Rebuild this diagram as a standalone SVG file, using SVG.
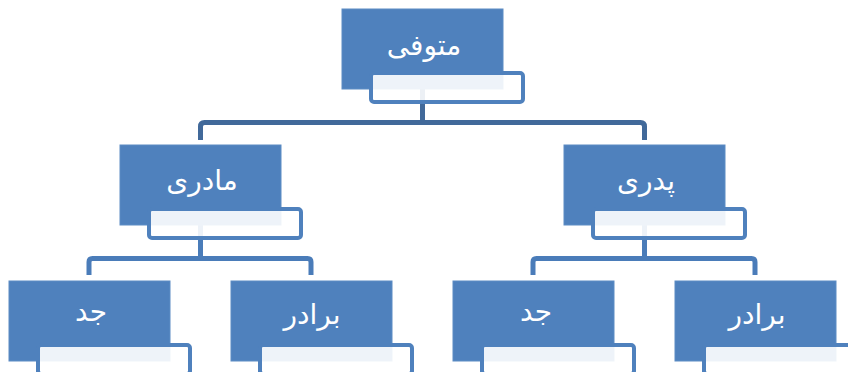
<svg xmlns="http://www.w3.org/2000/svg" width="848" height="372" viewBox="0 0 848 372">
<style>
.box{fill:#4F81BD;stroke:#5D8CC4;stroke-width:1}
.frame{fill:#FFFFFF;fill-opacity:0.9;stroke:#4F81BD;stroke-width:4}
.lbl{fill:#FFFFFF;font-family:"DejaVu Sans",sans-serif;font-size:28px;text-anchor:middle}
.c1{fill:none;stroke:#41699A;stroke-width:5}
.c2{fill:none;stroke:#4A7CB9;stroke-width:5}
</style>
<rect width="848" height="372" fill="#FFFFFF"/>
<g id="connectors">
<path class="c1" d="M422.5,89 V122.5"/>
<path class="c1" d="M200.5,140 V126.5 Q200.5,122.5 204.5,122.5 H640.5 Q644.5,122.5 644.5,126.5 V140"/>
<path class="c2" d="M200.5,225 V258.5"/>
<path class="c2" d="M89,275 V262 Q89,258.5 92.5,258.5 H307.5 Q311,258.5 311,262 V275"/>
<path class="c2" d="M644.5,225 V258.5"/>
<path class="c2" d="M533,275 V262 Q533,258.5 536.5,258.5 H751.5 Q755,258.5 755,262 V275"/>
</g>
<g id="node-motavaffi">
<rect class="box" x="342" y="9" width="161" height="80"/>
<rect class="frame" x="371" y="73" width="152" height="29" rx="3"/>
<text class="lbl" x="424" y="55">متوفی</text>
</g>
<g id="node-madari">
<rect class="box" x="120" y="145" width="161" height="80"/>
<rect class="frame" x="149" y="209" width="152" height="29" rx="3"/>
<text class="lbl" x="202" y="190">مادری</text>
</g>
<g id="node-pedari">
<rect class="box" x="564" y="145" width="161" height="80"/>
<rect class="frame" x="593" y="209" width="152" height="29" rx="3"/>
<text class="lbl" x="646" y="190">پدری</text>
</g>
<g id="node-jad-1">
<rect class="box" x="9" y="281" width="161" height="80"/>
<rect class="frame" x="38" y="345" width="152" height="29" rx="3"/>
<text class="lbl" x="91" y="321">جد</text>
</g>
<g id="node-baradar-1">
<rect class="box" x="231" y="281" width="161" height="80"/>
<rect class="frame" x="260" y="345" width="152" height="29" rx="3"/>
<text class="lbl" x="312" y="324">برادر</text>
</g>
<g id="node-jad-2">
<rect class="box" x="453" y="281" width="161" height="80"/>
<rect class="frame" x="482" y="345" width="152" height="29" rx="3"/>
<text class="lbl" x="536" y="321">جد</text>
</g>
<g id="node-baradar-2">
<rect class="box" x="675" y="281" width="161" height="80"/>
<rect class="frame" x="704" y="345" width="152" height="29" rx="3"/>
<text class="lbl" x="757" y="324">برادر</text>
</g>
</svg>
